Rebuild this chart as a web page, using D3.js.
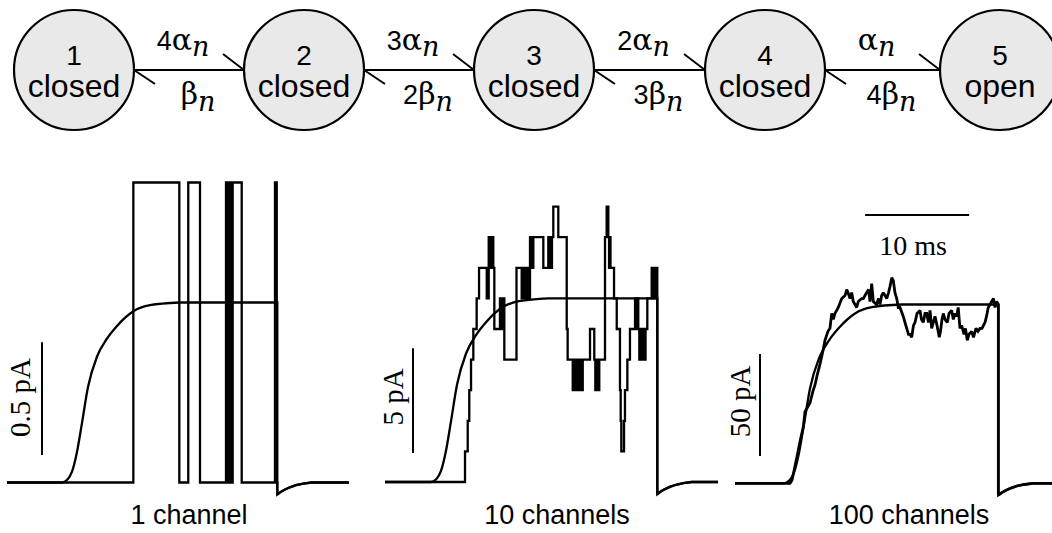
<!DOCTYPE html>
<html><head><meta charset="utf-8">
<script src="https://cdn.jsdelivr.net/npm/d3@7"></script>
<style>body{margin:0;background:#fff} svg{display:block}</style>
</head><body>
<svg id="c" width="1052" height="533"></svg>
<script>
// ---------------- data ----------------
const stateNums  = ["1", "2", "3", "4", "5"];
const stateNames = ["closed", "closed", "closed", "closed", "open"];
const fwdCoef = ["4", "3", "2", ""];   // k·αn
const bwdCoef = ["", "2", "3", "4"];   // k·βn

const panelLabels   = ["1 channel", "10 channels", "100 channels"];
const channelCounts = [1, 10, 100];
const windowStart   = [-5.29, -4.42, -4.71];   // ms, relative to voltage step
const windowEnd     = [27.6, 27.6, 25.8];
const pulseEnd      = [20.7, 21.76, 20.61];
const scaleBarPA    = [0.5, 5, 50];
const scaleBarText  = ["0.5 pA", "5 pA", "50 pA"];
const pAPerChannel  = [1.33, 1.46, 1.46];
const timeBarMs = 10, timeBarStart = 7.8, timeBarText = "10 ms";

// expected (mean) current: fraction of plateau vs time (ms)
const meanT = [0, 0.5, 0.96, 1.44, 1.92, 2.5, 3.37, 4.33, 5.29, 6.83, 8.46, 11.3];
const meanF = [0, 0.015, 0.06, 0.17, 0.33, 0.53, 0.7, 0.8, 0.87, 0.95, 0.985, 1];
const plateauFrac = 0.6;
// tail after the pulse: ms after pulse end, fraction of channels
const tailT = [0, 0.3, 0.7, 1.2, 1.8, 2.5, 3.3];
const tailF = [-0.04, -0.032, -0.024, -0.016, -0.009, -0.004, 0];

// 1 channel: transition times (ms), alternating open / closed, starting open
const p1T = [6.86, 11.28, 12.14, 13.27, 15.77, 15.89, 16.0, 16.1, 16.2, 16.3, 16.41, 17.28, 20.48, 20.65];

// 10 channels: transition times (ms) and new number of open channels
const p2T = [3.27,3.53,3.68,3.85,4.07,4.39,4.62,5.36,5.55,5.64,5.74,5.84,5.89,5.99,6.09,6.63,6.83,6.92,7.05,8.22,
             8.72,8.88,9.04,9.2,9.36,9.52,9.6,9.68,9.76,9.84,10.8,11.28,11.37,11.44,11.54,11.63,11.76,12.24,13.05,13.14,
             13.63,13.75,13.88,14.01,14.13,14.26,14.39,14.59,15.29,15.7,15.8,15.91,16.03,16.18,16.73,16.89,17.05,17.12,17.18,17.26,
             17.6,17.86,18.17,18.24,18.3,18.56,18.65,18.88,19.13,19.62,19.71,19.81,19.93,20.03,20.14,20.26,20.38,20.51,20.63,20.8,
             21.22,21.33,21.44,21.56,21.66];
const p2N = [1,2,3,4,5,6,7,6,8,7, 8,7,8,7,5,6,5,6,4,7, 6,7,6,7,6,8,7,8,7,8, 7,8,7,8,7,8,9,8,5,4,
             3,4,3,4,3,4,3,4,5,4, 3,4,3,4,8,9,8,7,8,7, 6,5,3,2,1,2,3,4,5,6, 5,6,5,4,5,4,5,4,5,6,
             7,6,7,6,7];

// 100 channels: sampled trace, time (ms) and open channels
const p3T = [0,0.58,0.77,1.25,1.54,1.86,2.02,2.34,2.5,2.79, 2.98,3.17,3.46,3.78,3.94,4.23,4.42,4.59,4.74,4.9,
             5.22,5.55,5.87,6.03,6.15,6.35,6.51,6.66,6.99,7.14, 7.47,7.63,7.95,8.13,8.27,8.43,8.59,8.91,9.09,9.23,
             9.39,9.55,9.88,10.05,10.19,10.36,10.51,10.67,10.84,10.99, 11.15,11.47,11.63,11.8,11.97,12.12,12.28,12.45,12.6,12.79,
             13.08,13.22,13.39,13.56,13.72,13.89,14.04,14.2,14.36,14.52, 14.71,14.93,15.05,15.19,15.32,15.48,15.7,15.87,16.12,16.28,
             16.44,16.6,16.75,16.92,17.08,17.31,17.45,17.62,17.79,18.05, 18.22,18.46,18.65,18.85,19.04,19.33,19.47,19.64,19.81,19.97,
             20.14,20.29,20.45,20.61];
const p3N = [0,0,1,9,14,19,24,26,27,31, 33,36,40,45,48,51,52,57,55,57,
             59,62,63,65,64,62,64,61,59,61, 62,62,64,65,61,67,61,60,62,60,
             63,64,62,64,66,69,68,64,62,59, 59,56,54,52,50,50,49,53,54,57,
             58,55,54,57,57,54,58,52,54,56, 53,49,51,55,57,55,54,57,58,55,
             57,56,59,52,53,50,52,48,50,51, 49,52,51,52,52,54,56,59,60,61,
             62,59,61,60];

// ---------------- layout ----------------
const svg = d3.select("#c");
const SANS = "'Liberation Sans', Arial, sans-serif";
const SERIF = "'Liberation Serif', 'Times New Roman', serif";
const GREEK = "'DejaVu Serif', serif";
const LW = 2.3;

// ---- state diagram ----
const cxs = [74, 304, 534, 765, 1000], cy = 70, R = 60;
const gd = svg.append("g");
gd.selectAll("circle").data(stateNums).join("circle")
  .attr("cx", (d, i) => cxs[i]).attr("cy", cy).attr("r", R)
  .attr("fill", "#e9e9e9").attr("stroke", "#000").attr("stroke-width", 2.2);
gd.selectAll("text.num").data(stateNums).join("text").attr("class", "num")
  .attr("x", (d, i) => cxs[i]).attr("y", 65).attr("text-anchor", "middle")
  .attr("font-family", SANS).attr("font-size", 28).text(d => d);
gd.selectAll("text.nm").data(stateNames).join("text").attr("class", "nm")
  .attr("x", (d, i) => cxs[i]).attr("y", 97).attr("text-anchor", "middle")
  .attr("font-family", SANS).attr("font-size", 32).text(d => d);

fwdCoef.forEach((c, i) => {
  const x1 = cxs[i] + R, x2 = cxs[i + 1] - R, mid = (x1 + x2) / 2;
  gd.append("line").attr("x1", x1).attr("x2", x2).attr("y1", cy).attr("y2", cy)
    .attr("stroke", "#000").attr("stroke-width", 2);
  gd.append("line").attr("x1", x2).attr("y1", cy).attr("x2", x2 - 21).attr("y2", cy - 16)
    .attr("stroke", "#000").attr("stroke-width", 2);
  gd.append("line").attr("x1", x1).attr("y1", cy).attr("x2", x1 + 21).attr("y2", cy + 14)
    .attr("stroke", "#000").attr("stroke-width", 2);
  const tu = gd.append("text").attr("x", mid - 6).attr("y", 50).attr("text-anchor", "middle");
  tu.append("tspan").attr("font-family", SANS).attr("font-size", 27).text(c);
  tu.append("tspan").attr("font-family", GREEK).attr("font-size", 30).text("α");
  tu.append("tspan").attr("font-family", GREEK).attr("font-style", "italic").attr("font-size", 27).attr("dy", 6).text("n");
  const tl = gd.append("text").attr("x", mid + 9).attr("y", 104).attr("text-anchor", "middle");
  tl.append("tspan").attr("font-family", SANS).attr("font-size", 27).text(bwdCoef[i]);
  tl.append("tspan").attr("font-family", GREEK).attr("font-size", 30).text("β");
  tl.append("tspan").attr("font-family", GREEK).attr("font-style", "italic").attr("font-size", 27).attr("dy", 7).text("n");
});

// ---- traces ----
const pxPerMs = 10.4;
const onsetPx = [62, 431, 784];
const basePx  = [482.5, 482, 483.3];
const fullPx  = [300, 306, 298];
const labelX  = [189, 557, 909];
const barX    = [42, 413, 760];
const barBottom = [455, 453, 456];
const barTextPos = [[30, 397.5], [403, 397], [750, 401.5]];

const stochastic = [
  p1T.map((t, j) => [t, j % 2 === 0 ? 1 : 0]),
  p2T.map((t, j) => [t, p2N[j]]),
  null
];

panelLabels.forEach((lab, i) => {
  const N = channelCounts[i];
  const x = d3.scaleLinear().domain([0, 1]).range([onsetPx[i], onsetPx[i] + pxPerMs]);
  const y = d3.scaleLinear().domain([0, N]).range([basePx[i], basePx[i] - fullPx[i]]);
  const g = svg.append("g");
  const lin = d3.line().x(d => x(d[0])).y(d => y(d[1]));
  const smooth = d3.line().x(d => x(d[0])).y(d => y(d[1])).curve(d3.curveMonotoneX);
  const pe = pulseEnd[i];
  const tailPts = tailT.map((t, j) => [pe + t, N * tailF[j]]).concat([[windowEnd[i], 0]]);

  // mean current
  const rise = [[windowStart[i], 0]].concat(meanT.map((t, j) => [t, N * plateauFrac * meanF[j]]));
  const rest = [[meanT[meanT.length - 1], N * plateauFrac], [pe, N * plateauFrac]].concat(tailPts);
  g.append("path").attr("d", smooth(rise) + lin(rest).replace(/^M/, "L"))
    .attr("fill", "none").attr("stroke", "#000").attr("stroke-width", LW).attr("stroke-linejoin", "miter");

  // stochastic trace
  let pts = [[windowStart[i], 0]];
  if (stochastic[i]) {
    let cur = 0;
    stochastic[i].forEach(([t, n]) => { pts.push([t, cur]); pts.push([t, n]); cur = n; });
    pts.push([pe, cur]);
  } else {
    p3T.forEach((t, j) => pts.push([t, p3N[j]]));
    pts.push([pe, p3N[p3N.length - 1]]);
  }
  pts = pts.concat(tailPts);
  g.append("path").attr("d", lin(pts))
    .attr("fill", "none").attr("stroke", "#000").attr("stroke-width", i === 2 ? 2.8 : LW)
    .attr("stroke-linejoin", "miter").attr("stroke-miterlimit", 2);

  // current scale bar
  const len = y(0) - y(scaleBarPA[i] / pAPerChannel[i]);
  g.append("line").attr("x1", barX[i]).attr("x2", barX[i])
    .attr("y1", barBottom[i]).attr("y2", barBottom[i] - len)
    .attr("stroke", "#000").attr("stroke-width", 2);
  g.append("text").attr("transform", `translate(${barTextPos[i][0]},${barTextPos[i][1]}) rotate(-90)`)
    .attr("text-anchor", "middle").attr("font-family", SERIF).attr("font-size", 29).text(scaleBarText[i]);

  // label
  g.append("text").attr("x", labelX[i]).attr("y", 524).attr("text-anchor", "middle")
    .attr("font-family", SANS).attr("font-size", 27).text(lab);

  if (i === 2) {
    g.append("line").attr("x1", x(timeBarStart)).attr("x2", x(timeBarStart + timeBarMs))
      .attr("y1", 215).attr("y2", 215).attr("stroke", "#000").attr("stroke-width", 2);
    g.append("text").attr("x", 913).attr("y", 255).attr("text-anchor", "middle")
      .attr("font-family", SERIF).attr("font-size", 28).text(timeBarText);
  }
});
</script>
</body></html>
